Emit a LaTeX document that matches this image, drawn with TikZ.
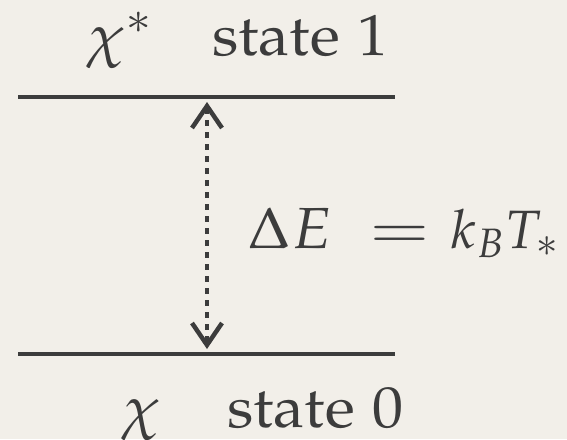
\documentclass[tikz,border=0pt]{standalone}
\usepackage[T1]{fontenc}
\usepackage[sc]{mathpazo}
\usepackage{graphicx}
\usepackage{tikz}
\usetikzlibrary{calc}
\usetikzlibrary{arrows.meta}
\definecolor{paper}{RGB}{242,239,233}
\definecolor{ink}{RGB}{60,60,60}
\newcommand{\widetxt}[1]{\scalebox{1.07}[1]{#1}}

\begin{document}
\begin{tikzpicture}[x=1pt,y=-1pt,font=\fontsize{58}{66}\selectfont,text=ink,
  level/.style={draw=ink,line width=4pt},
  gap/.style={draw=ink,line width=4.5pt,dash pattern=on 6pt off 6pt,
    {Straight Barb[length=22pt,width=30pt,line width=4.5pt]}-{Straight Barb[length=22pt,width=30pt,line width=4.5pt]},
    shorten >=5pt,shorten <=5pt},
  lbl/.style={anchor=base west,inner sep=0pt}]
\fill[paper] (0,0) rectangle (567,439);
\useasboundingbox (0,0) rectangle (567,439);
\coordinate (A) at (18,97);
\coordinate (B) at (395,97);
\coordinate (C) at (18,354);
\coordinate (D) at (395,354);
\coordinate (U) at (207,97);
\coordinate (L) at (207,354);
  \draw[level] (A) -- (B);
  \draw[level] (C) -- (D);
  \draw[gap] (U) -- (L);

   % labels of the two levels
   \node[lbl] (chiup) at (87,55) {\widetxt{$\chi^*$}};
   \node[lbl] (stateup) at (212,55) {\widetxt{state 1}};
   \node[lbl] (chilo) at (122,427) {\widetxt{$\chi$}};
   \node[lbl] (statelo) at (227,427) {\widetxt{state 0}};
   % gap
   \node[lbl] (dE) at (248,248) {\widetxt{$\Delta E$}};
   \node[lbl] (eq) at (369,248) {\scalebox{1.25}[1]{$=$}};
   \node[lbl,font=\fontsize{54}{60}\selectfont] (kT) at (451,248) {$k_B T_*$};
   \end{tikzpicture}
\end{document}
